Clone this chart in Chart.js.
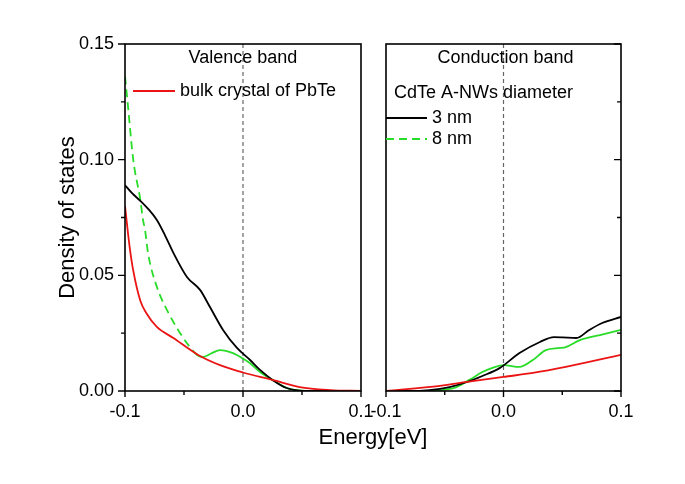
<!DOCTYPE html>
<html>
<head>
<meta charset="utf-8">
<script src="https://cdn.jsdelivr.net/npm/chart.js@4/dist/chart.umd.min.js"></script>
<style>
  html, body { margin: 0; padding: 0; background: #fff; }
  #wrap { position: relative; width: 685px; height: 484px; overflow: hidden; }
  canvas { position: absolute; top: 0; }
  #left { left: 0; }
  #right { left: 366px; }
  #xtitle {
    position: absolute; left: 273px; width: 200px; top: 424px;
    text-align: center; font: 22px "Liberation Sans", Arial, sans-serif; line-height: 26px; color: #000;
  }
</style>
</head>
<body>
<div id="wrap">
  <canvas id="left" width="380" height="484"></canvas>
  <canvas id="right" width="319" height="484"></canvas>
  <div id="xtitle">Energy[eV]</div>
</div>
<script>
// axis ranges and tick steps
const energyMin = -0.1, energyMax = 0.1, energyStep = 0.05;
const dosMin = 0, dosMax = 0.15, dosStep = 0.025;

// valence band (left panel)
const valBulkE = [-0.1, -0.0985, -0.096, -0.093, -0.087, -0.082, -0.073, -0.059, -0.038, -0.0195, 0, 0.025, 0.048, 0.074, 0.1];
const valBulkD = [0.080, 0.073, 0.062, 0.052, 0.039, 0.0337, 0.0277, 0.0229, 0.0156, 0.0112, 0.0080, 0.0048, 0.0017, 0.0004, 0];
const val3nmE = [-0.1, -0.094, -0.087, -0.08, -0.073, -0.066, -0.059, -0.0475, -0.0364, -0.028, -0.0169, -0.0051, 0.006, 0.0144, 0.025, 0.037, 0.048, 0.06, 0.08];
const val3nmD = [0.089, 0.0855, 0.0822, 0.0785, 0.0739, 0.0672, 0.0597, 0.0493, 0.0437, 0.0363, 0.0264, 0.0186, 0.0134, 0.0091, 0.0048, 0.0013, 0.0002, 0, 0];
const val8nmE = [-0.1, -0.098, -0.093, -0.087, -0.0847, -0.083, -0.0805, -0.073, -0.0644, -0.055, -0.045, -0.038, -0.034, -0.027, -0.0195, -0.0085, 0, 0.006, 0.0144, 0.025, 0.037, 0.048, 0.06, 0.08];
const val8nmD = [0.136, 0.126, 0.0999, 0.0826, 0.0739, 0.0696, 0.0597, 0.045, 0.035, 0.0264, 0.019, 0.0152, 0.0147, 0.0162, 0.0177, 0.0164, 0.0140, 0.012, 0.0082, 0.0048, 0.0013, 0.0003, 0, 0];
const val8nmDashedUntil = -0.038;

// conduction band (right panel)
const conBulkE = [-0.1, -0.054, -0.031, 0, 0.025, 0.053, 0.1];
const conBulkD = [0, 0.0022, 0.0039, 0.0061, 0.0078, 0.0104, 0.0156];
const con3nmE = [-0.1, -0.08, -0.063, -0.046, -0.031, -0.018, -0.003, 0.0136, 0.031, 0.043, 0.05, 0.062, 0.073, 0.084, 0.1];
const con3nmD = [0, 0, 0.0004, 0.0017, 0.0039, 0.0065, 0.0100, 0.0164, 0.0212, 0.0233, 0.0232, 0.0229, 0.0264, 0.0294, 0.032];
const con8nmE = [-0.1, -0.06, -0.052, -0.04, -0.029, -0.018, -0.0094, 0, 0.0136, 0.025, 0.036, 0.048, 0.053, 0.065, 0.082, 0.1];
const con8nmD = [0, 0, 0.0004, 0.0017, 0.0048, 0.0082, 0.0100, 0.0112, 0.0104, 0.0134, 0.0177, 0.0186, 0.019, 0.022, 0.0242, 0.0264];

const FONT = '"Liberation Sans", Arial, sans-serif';
const RED = "rgb(235, 20, 20)";
const GREEN = "rgb(40, 220, 40)";
const BLACK = "#000";

function pts(xs, ys) {
  return xs.map((x, i) => ({ x: x, y: ys[i] }));
}

function isMultiple(v, step) {
  const r = v / step;
  return Math.abs(r - Math.round(r)) < 1e-6;
}

function line(label, xs, ys, color, extra) {
  return Object.assign({
    label: label,
    data: pts(xs, ys),
    borderColor: color,
    borderWidth: 1.8,
    pointRadius: 0,
    showLine: true,
    fill: false,
    cubicInterpolationMode: "monotone",
  }, extra || {});
}

// рамка, пунктир в нуле, засечки
const framePlugin = {
  id: "frame",
  beforeDatasetsDraw(chart) {
    const { ctx, chartArea: a, scales: { x } } = chart;
    const zx = x.getPixelForValue(0);
    ctx.save();
    ctx.strokeStyle = "#666";
    ctx.lineWidth = 1.2;
    ctx.setLineDash([4, 3]);
    ctx.beginPath();
    ctx.moveTo(zx, a.top);
    ctx.lineTo(zx, a.bottom);
    ctx.stroke();
    ctx.restore();
  },
  afterDatasetsDraw(chart, args, opts) {
    const { ctx, chartArea: a, scales: { x, y } } = chart;
    ctx.save();
    ctx.strokeStyle = "#000";
    ctx.lineWidth = 1.6;
    ctx.strokeRect(a.left, a.top, a.right - a.left, a.bottom - a.top);
    ctx.lineWidth = 1.4;
    ctx.beginPath();
    x.ticks.forEach((t) => {
      const px = x.getPixelForValue(t.value);
      const len = isMultiple(t.value, 0.1) ? 6 : 4;
      ctx.moveTo(px, a.bottom);
      ctx.lineTo(px, a.bottom + len);
    });
    y.ticks.forEach((t) => {
      const py = y.getPixelForValue(t.value);
      const len = isMultiple(t.value, 0.05) ? 7 : 4;
      if (opts.side === "left") {
        ctx.moveTo(a.left, py);
        ctx.lineTo(a.left - len, py);
      } else {
        ctx.moveTo(a.right, py);
        ctx.lineTo(a.right - len, py);
      }
    });
    ctx.stroke();
    ctx.restore();
  },
};

// подписи внутри панелей
const notesPlugin = {
  id: "notes",
  afterDraw(chart, args, opts) {
    const { ctx, chartArea: a, scales: { x } } = chart;
    ctx.save();
    ctx.font = "18px " + FONT;
    ctx.fillStyle = "#000";
    ctx.textBaseline = "middle";
    ctx.textAlign = "center";
    ctx.fillText(opts.title, x.getPixelForValue(0) + opts.titleShift, a.top + 14);
    ctx.textAlign = "left";
    if (opts.header) ctx.fillText(opts.header, a.left + 8, a.top + 49);
    opts.items.forEach((it) => {
      const ly = a.top + it.dy;
      ctx.strokeStyle = it.color;
      ctx.lineWidth = 1.8;
      ctx.setLineDash(it.dash || []);
      ctx.beginPath();
      ctx.moveTo(a.left + it.x0, ly);
      ctx.lineTo(a.left + it.x1, ly);
      ctx.stroke();
      ctx.setLineDash([]);
      ctx.fillText(it.text, a.left + it.x1 + 5, ly);
    });
    ctx.restore();
  },
};

function makeOptions(side, notes) {
  const left = side === "left";
  return {
    responsive: false,
    animation: false,
    layout: { padding: left ? { left: 51, right: 19, top: 44, bottom: 0 } : { left: 20, right: 64, top: 44, bottom: 0 } },
    plugins: {
      legend: { display: false },
      tooltip: { enabled: false },
      frame: { side: side },
      notes: notes,
    },
    scales: {
      x: {
        type: "linear",
        min: energyMin,
        max: energyMax,
        afterFit: (s) => {
          s.height = 93;
          s.paddingLeft = 0;
          s.paddingRight = 0;
        },
        grid: { display: false, drawTicks: false },
        border: { display: false },
        ticks: {
          stepSize: energyStep,
          autoSkip: false,
          maxRotation: 0,
          padding: 10,
          color: "#000",
          font: { family: FONT, size: 18 },
          callback: (v) => (isMultiple(v, 0.1) ? (Math.abs(v) < 1e-9 ? "0.0" : v.toFixed(1)) : ""),
        },
      },
      y: {
        type: "linear",
        position: side,
        min: dosMin,
        max: dosMax,
        afterFit: (s) => {
          s.width = left ? 74 : 0;
          s.paddingTop = 0;
          s.paddingBottom = 0;
        },
        grid: { display: false, drawTicks: false },
        border: { display: false },
        title: {
          display: left,
          text: "Density of states",
          color: "#000",
          font: { family: FONT, size: 22 },
        },
        ticks: {
          display: left,
          stepSize: dosStep,
          autoSkip: false,
          padding: 11,
          color: "#000",
          font: { family: FONT, size: 18 },
          callback: (v) => (isMultiple(v, 0.05) ? v.toFixed(2) : ""),
        },
      },
    },
  };
}

new Chart(document.getElementById("left"), {
  type: "scatter",
  data: {
    datasets: [
      line("bulk crystal of PbTe", valBulkE, valBulkD, RED),
      line("3 nm", val3nmE, val3nmD, BLACK),
      line("8 nm", val8nmE, val8nmD, GREEN, {
        segment: { borderDash: (c) => (c.p1.parsed.x <= val8nmDashedUntil + 1e-9 ? [8, 5] : undefined) },
      }),
    ],
  },
  options: makeOptions("left", {
    title: "Valence band",
    titleShift: 0,
    header: "",
    items: [{ text: "bulk crystal of PbTe", color: RED, x0: 8, x1: 50, dy: 47 }],
  }),
  plugins: [framePlugin, notesPlugin],
});

new Chart(document.getElementById("right"), {
  type: "scatter",
  data: {
    datasets: [
      line("bulk", conBulkE, conBulkD, RED),
      line("3 nm", con3nmE, con3nmD, BLACK),
      line("8 nm", con8nmE, con8nmD, GREEN),
    ],
  },
  options: makeOptions("right", {
    title: "Conduction band",
    titleShift: 2,
    header: "CdTe A-NWs diameter",
    items: [
      { text: "3 nm", color: BLACK, x0: 0, x1: 41, dy: 74 },
      { text: "8 nm", color: GREEN, x0: 0, x1: 41, dy: 95, dash: [8, 5] },
    ],
  }),
  plugins: [framePlugin, notesPlugin],
});
</script>
</body>
</html>
